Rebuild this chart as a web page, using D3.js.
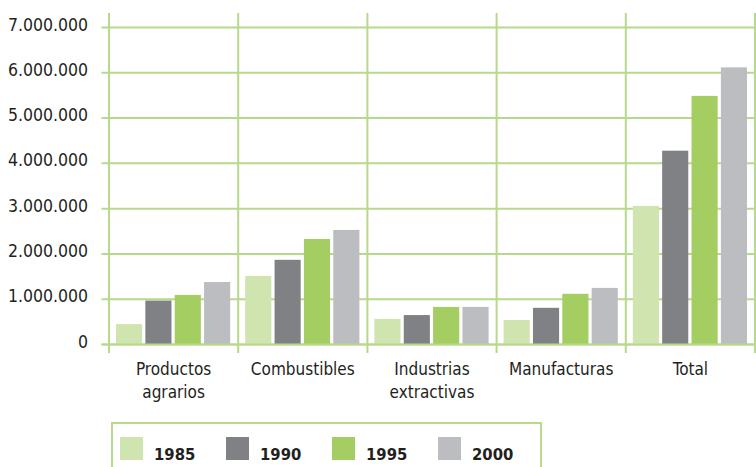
<!DOCTYPE html>
<html>
<head>
<meta charset="utf-8">
<script src="https://cdn.jsdelivr.net/npm/d3@7"></script>
<style>
    body { margin: 0; background: #fff; }
    text { font-family: "Liberation Sans Narrow", "DejaVu Sans Condensed", "Roboto", sans-serif; fill: #231f20; }
</style>
</head>
<body>
<svg></svg>
<script>
// datos
const categories = ["Productos agrarios", "Combustibles", "Industrias extractivas", "Manufacturas", "Total"];
const years = ["1985", "1990", "1995", "2000"];
const values1985 = [450000, 1515000, 565000, 540000, 3060000];
const values1990 = [970000, 1870000, 650000, 810000, 4280000];
const values1995 = [1095000, 2330000, 830000, 1120000, 5490000];
const values2000 = [1380000, 2530000, 830000, 1250000, 6120000];
const yTicks = [0, 1000000, 2000000, 3000000, 4000000, 5000000, 6000000, 7000000];
const colors = ["#d0e4b0", "#808185", "#a4cd62", "#bcbdc1"];

const width = 756;
const height = 467;
const gridColor = "#b7d98c";
let svg = d3.select("svg").attr("width", width).attr("height", height);

const series = [values1985, values1990, values1995, values2000];

let scX = d3.scaleBand().domain(categories).range([109, 755]);
let scY = d3.scaleLinear().domain([0, 7000000]).range([344.5, 27.5]);
let scInner = d3.scaleBand().domain(years).range([7, scX.bandwidth() - 8]).paddingInner(0.11);

// rejilla horizontal
svg.append("g")
    .selectAll("line")
    .data(yTicks)
    .enter()
    .append("line")
    .attr("x1", 101.5)
    .attr("x2", width)
    .attr("y1", (d) => scY(d))
    .attr("y2", (d) => scY(d))
    .style("stroke", gridColor)
    .style("stroke-width", 2);

// rejilla vertical
let vx = categories.map((c) => scX(c)).concat([scX.range()[1]]);
svg.append("g")
    .selectAll("line")
    .data(vx)
    .enter()
    .append("line")
    .attr("x1", (d) => d)
    .attr("x2", (d) => d)
    .attr("y1", 13)
    .attr("y2", 353)
    .style("stroke", gridColor)
    .style("stroke-width", 2);

// etiquetas del eje Y
svg.append("g")
    .selectAll("text")
    .data(yTicks)
    .enter()
    .append("text")
    .attr("x", 88)
    .attr("y", (d) => scY(d) + 3)
    .attr("text-anchor", "end")
    .style("font-size", "17.5px")
    .text((d) => d3.format(",")(d).replace(/,/g, "."));

// barras
series.forEach((vals, i) => {
    svg.append("g")
        .selectAll("rect")
        .data(vals)
        .enter()
        .append("rect")
        .attr("x", (d, j) => scX(categories[j]) + scInner(years[i]))
        .attr("y", (d) => scY(d))
        .attr("width", scInner.bandwidth())
        .attr("height", (d) => scY(0) - scY(d))
        .style("fill", colors[i]);
});

// línea base encima de las barras
svg.append("line")
    .attr("x1", 101.5)
    .attr("x2", width)
    .attr("y1", scY(0))
    .attr("y2", scY(0))
    .style("stroke", gridColor)
    .style("stroke-width", 2);

// etiquetas de categorías (dos líneas si hace falta)
let labels = svg.append("g")
    .selectAll("text")
    .data(categories)
    .enter()
    .append("text")
    .attr("x", (d) => scX(d) + scX.bandwidth() / 2)
    .attr("y", 375)
    .attr("text-anchor", "middle")
    .style("font-size", "17px");

labels.each(function (d) {
    let words = d.split(" ");
    let el = d3.select(this);
    let cx = scX(d) + scX.bandwidth() / 2;
    words.forEach((w, k) => {
        el.append("tspan")
            .attr("x", cx)
            .attr("dy", k == 0 ? 0 : 23)
            .text(w);
    });
});

// leyenda
svg.append("rect")
    .attr("x", 112)
    .attr("y", 423)
    .attr("width", 429)
    .attr("height", 60)
    .style("fill", "none")
    .style("stroke", gridColor)
    .style("stroke-width", 2);

let legendX = d3.scaleBand().domain(years).range([120, 544]);

let legend = svg.append("g")
    .selectAll("g")
    .data(years)
    .enter()
    .append("g")
    .attr("transform", (d) => `translate(${legendX(d)}, 437)`);

legend.append("rect")
    .attr("width", 23)
    .attr("height", 23)
    .style("fill", (d, i) => colors[i]);

legend.append("text")
    .attr("x", 34)
    .attr("y", 23)
    .style("font-size", "16.5px")
    .style("font-weight", "bold")
    .text((d) => d);
</script>
</body>
</html>
